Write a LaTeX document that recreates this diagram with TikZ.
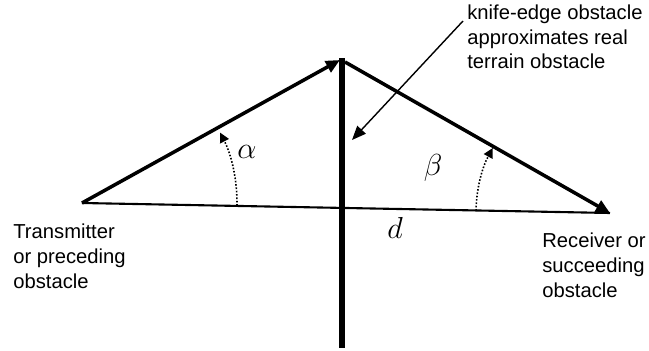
\documentclass[tikz,border=0pt]{standalone}
\usepackage{fontspec}
\setmainfont{Liberation Sans}
\usetikzlibrary{calc, positioning}
\usetikzlibrary{arrows.meta}

\begin{document}
\begin{tikzpicture}
\useasboundingbox (0,0) rectangle (12.98,7.02);
\coordinate (tx) at (1.64,2.96);
\coordinate (rx) at (12.20,2.76);
\coordinate (edgetop) at (6.84,5.86);
\coordinate (edgefoot) at (6.84,0.06);
\coordinate (lefttip) at (6.80,5.82);
\coordinate (rightstart) at (6.90,5.78);
\coordinate (notestart) at (9.26,6.60);
\coordinate (noteend) at (7.04,4.22);

% Knife edge and the ground line
\draw[line width=3.2pt,black] (edgefoot) -- (edgetop);
\draw[line width=1.2pt,black] (tx) -- (rx);

% Rays over the edge
\draw[line width=2pt,black,-{Triangle[length=8pt,width=7pt]}] (tx) -- (lefttip);
\draw[line width=2pt,black,-{Triangle[length=8pt,width=7pt]}] (rightstart) -- (rx);

% Angles at both ends
\draw[densely dotted,line width=0.9pt,-{Triangle[length=5.5pt,width=5.5pt]}]
    ($(tx)+(-1:3.1)$) arc[start angle=-1, end angle=27, radius=3.1];
\draw[densely dotted,line width=0.9pt,-{Triangle[length=5.5pt,width=5.5pt]}]
    ($(rx)+(179:2.68)$) arc[start angle=179, end angle=151, radius=2.68];
\node (alpha) at (4.94,3.98) {\fontsize{18}{20}\selectfont$\alpha$};
\node (beta) at (8.66,3.66) {\fontsize{18}{20}\selectfont$\beta$};
\node (dist) at (7.90,2.46) {\fontsize{18}{20}\selectfont$d$};

% Note on the obstacle
\draw[line width=0.8pt,black,-{Triangle[length=8pt,width=6.5pt]}] (notestart) -- (noteend);
\node[anchor=north west,align=left,inner sep=0pt,font=\fontsize{11.5}{13.8}\selectfont]
    (note) at (9.34,6.92) {knife-edge obstacle\\approximates real\\terrain obstacle};

% End labels
\node[anchor=north west,align=left,inner sep=0pt,font=\fontsize{11.5}{14}\selectfont]
    (txlabel) at (0.26,2.54) {Transmitter\\or preceding\\obstacle};
\node[anchor=north west,align=left,inner sep=0pt,font=\fontsize{11.5}{14}\selectfont]
    (rxlabel) at (10.84,2.36) {Receiver or\\succeeding\\obstacle};
\end{tikzpicture}
\end{document}
